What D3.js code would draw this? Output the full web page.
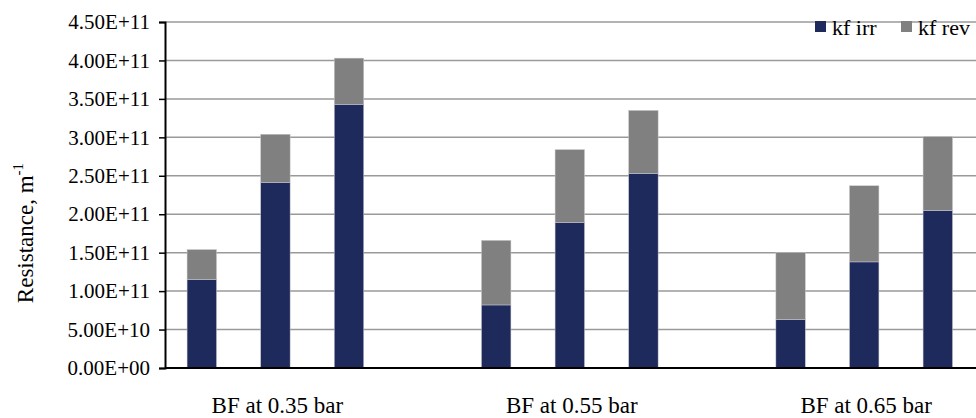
<!DOCTYPE html>
<html>
<head>
<meta charset="utf-8">
<script src="https://cdn.jsdelivr.net/npm/d3@7"></script>
<style>
  body { margin: 0; background: #fff; }
  svg text { font-family: 'Liberation Serif', 'Times New Roman', Tinos, 'DejaVu Serif', serif; fill: #000; }
</style>
</head>
<body>
<svg width="976" height="418"></svg>
<script>
// values (units of m^-1)
let groups = ["BF at 0.35 bar", "BF at 0.55 bar", "BF at 0.65 bar"],
    kfIrr = [1.15e11, 2.41e11, 3.43e11, 0.82e11, 1.89e11, 2.53e11, 0.63e11, 1.38e11, 2.05e11],
    kfRev = [0.39e11, 0.63e11, 0.60e11, 0.84e11, 0.95e11, 0.82e11, 0.87e11, 0.99e11, 0.96e11],
    seriesNames = ["kf irr", "kf rev"],
    yTicks = [0, 0.5e11, 1e11, 1.5e11, 2e11, 2.5e11, 3e11, 3.5e11, 4e11, 4.5e11];

let svg = d3.select("svg"),
    width = +svg.attr("width"),
    plotLeft = 165, plotTop = 22, plotBottom = 368,
    serif = "'Liberation Serif', 'Times New Roman', Tinos, 'DejaVu Serif', serif",
    color = d3.scaleOrdinal().domain(seriesNames).range(["#1f2a5c", "#808080"]);

// 3 bars per group plus an empty slot after each group
let slots = [];
groups.forEach(function(g, gi) {
  for (let k = 0; k < 3; k++) slots.push(gi + "-" + k);
  slots.push(gi + "-gap");
});

let rows = kfIrr.map(function(v, i) {
  return {slot: Math.floor(i / 3) + "-" + (i % 3), "kf irr": v, "kf rev": kfRev[i]};
});

let x = d3.scaleBand().domain(slots).range([plotLeft, plotLeft + 12 * 73.6])
    .paddingInner(0.6).paddingOuter(0.3);
let y = d3.scaleLinear().domain([0, 4.5e11]).range([plotBottom, plotTop]);

function sci(v) {
  let s = d3.format(".2e")(v).split("e");
  let sign = s[1][0], e = s[1].slice(1);
  if (e.length < 2) e = "0" + e;
  return s[0] + "E" + sign + e;
}

// gridlines
svg.append("g").selectAll("line")
  .data(yTicks.slice(1))
  .enter().append("line")
  .attr("x1", plotLeft).attr("x2", width)
  .attr("y1", function(d) { return y(d); })
  .attr("y2", function(d) { return y(d); })
  .attr("stroke", "#9a9a9a").attr("stroke-width", 1.5);

// stacked bars
let stacked = d3.stack().keys(seriesNames)(rows);
svg.append("g").selectAll("g")
  .data(stacked)
  .enter().append("g")
  .attr("fill", function(d) { return color(d.key); })
  .selectAll("rect")
  .data(function(d) { return d; })
  .enter().append("rect")
  .attr("x", function(d) { return x(d.data.slot); })
  .attr("width", x.bandwidth())
  .attr("y", function(d) { return y(d[1]); })
  .attr("height", function(d) { return y(d[0]) - y(d[1]); })
  .attr("stroke", "#c8c8d0").attr("stroke-width", 0.5);

// y axis
let yAxis = svg.append("g")
  .attr("transform", "translate(" + plotLeft + ",0)")
  .call(d3.axisLeft(y).tickValues(yTicks).tickFormat(sci).tickSize(6).tickPadding(9));
yAxis.attr("font-family", serif).attr("font-size", 21);
yAxis.select(".domain").attr("stroke", "#000").attr("stroke-width", 2);
yAxis.selectAll(".tick line").attr("stroke", "#000").attr("stroke-width", 1.5);
yAxis.selectAll(".tick text").attr("fill", "#000");

// x axis line
svg.append("line")
  .attr("x1", plotLeft).attr("x2", width)
  .attr("y1", plotBottom).attr("y2", plotBottom)
  .attr("stroke", "#000").attr("stroke-width", 2);

// group labels under the middle bar
svg.append("g").selectAll("text")
  .data(groups)
  .enter().append("text")
  .attr("x", function(d, i) { return x(i + "-1") + x.bandwidth() / 2 + 2; })
  .attr("y", 413)
  .attr("text-anchor", "middle")
  .attr("font-family", serif)
  .attr("font-size", 23)
  .text(function(d) { return d; });

// y title
let title = svg.append("text")
  .attr("transform", "translate(33,233) rotate(-90)")
  .attr("text-anchor", "middle")
  .attr("font-family", serif)
  .attr("font-size", 23);
title.append("tspan").text("Resistance, m");
title.append("tspan").attr("dy", -10).attr("font-size", 15).text("-1");

// legend
let legend = svg.append("g").selectAll("g")
  .data(seriesNames)
  .enter().append("g")
  .attr("transform", function(d, i) { return "translate(" + (815 + i * 86) + ",21)"; });
legend.append("rect")
  .attr("width", 11).attr("height", 11)
  .attr("fill", function(d) { return color(d); });
legend.append("text")
  .attr("x", 17).attr("y", 14)
  .attr("font-family", serif)
  .attr("font-size", 22)
  .text(function(d) { return d; });
</script>
</body>
</html>
